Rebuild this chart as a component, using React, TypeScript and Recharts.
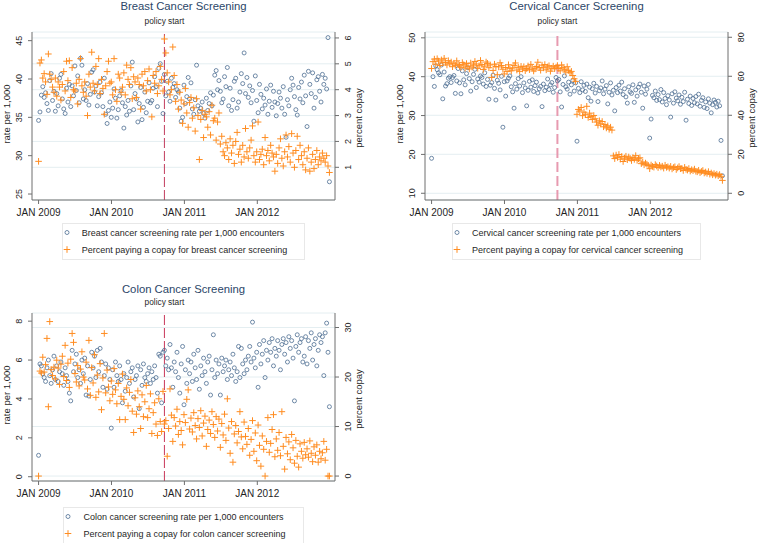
import type { JSX } from "react";
import { CartesianGrid, ReferenceLine, Scatter, ScatterChart, XAxis, YAxis } from "recharts";

// weeks since Jan 1 2009 (one point per week, 209 weeks)
const tickWeeks = [0, 52.14, 104.29, 156.43];
const tickLabels = ["JAN 2009", "JAN 2010", "JAN 2011", "JAN 2012"];
const policyWeek = 90;

const breastRate = [
  34.6, 35.7, 37.9, 39.0, 37.6, 38.2, 36.8, 35.9, 39.8, 40.7, 37.2, 38.4, 35.8, 38.1, 36.5, 40.1, 40.6, 37.4, 36.1, 35.5,
  38.8, 37.0, 39.3, 36.4, 39.1, 37.8, 41.7, 38.5, 40.4, 36.9, 42.7, 41.8, 37.4, 38.6, 37.2, 39.4, 36.6, 38.0, 40.9, 41.2,
  38.3, 39.1, 36.5, 37.7, 39.6, 38.2, 36.4, 40.1, 35.4, 34.2, 35.9, 37.0, 35.0, 36.2, 38.7, 37.5, 34.9, 36.0, 37.8, 38.5,
  36.9, 33.6, 36.4, 35.3, 37.2, 35.8, 39.1, 42.2, 36.0, 38.1, 37.4, 34.4, 36.8, 38.9, 34.7, 36.3, 38.3, 35.6, 37.1, 39.5,
  36.9, 37.2, 38.8, 40.3, 39.0, 36.4, 41.4, 42.0, 39.7, 35.5,
  40.6, 37.8, 39.7, 38.3, 37.1, 40.1, 38.9, 39.4, 37.6, 38.6, 38.3, 36.2, 34.5, 35.0, 39.2, 36.8, 37.7, 40.2, 37.4, 39.5,
  36.1, 35.4, 37.3, 41.8, 36.5, 35.8, 36.2, 37.0, 35.5, 34.9, 37.5, 35.9, 36.8, 38.2, 36.5, 37.9, 40.5, 41.1, 38.6, 39.8,
  38.4, 36.9, 37.4, 40.3, 39.0, 41.5, 36.5, 38.8, 35.9, 37.3, 39.7, 40.1, 36.2, 37.0, 38.3, 40.7, 39.4, 43.4, 38.1, 40.2,
  37.6, 39.1, 36.9, 38.5, 34.5, 40.4, 37.2, 35.6, 39.3, 38.0, 36.1, 37.5, 36.6, 38.7, 35.4, 37.1, 39.2, 36.3, 38.4, 37.0,
  35.2, 36.8, 38.3, 37.5, 36.2, 39.0, 35.4, 32.4, 37.3, 36.5, 38.6, 40.1, 39.2, 37.7, 36.0, 35.3, 38.9, 37.4, 39.6, 36.9,
  40.5, 37.8, 33.8, 41.0, 39.3, 38.1, 40.8, 36.2, 37.6, 39.9, 40.3, 38.4, 37.0, 40.6, 39.3, 40.1, 38.7, 45.4, 26.6,
];

const breastCopay = [
  1.23, 5.03, 5.15, 4.45, 4.62, 4.3, 3.82, 5.38, 4.6, 4.4, 4.1, 3.9, 4.45, 3.75, 4.3, 4.1, 3.6, 4.2, 4.7, 3.95,
  5.1, 4.35, 5.12, 3.7, 4.85, 4.0, 3.95, 4.25, 3.45, 4.4, 5.2, 4.15, 3.9, 4.3, 3.75, 3.0, 4.6, 4.1, 5.45, 4.25,
  3.95, 4.9, 4.2, 5.2, 3.85, 4.4, 4.05, 3.05, 4.15, 4.7, 5.1, 4.25, 4.3, 3.8, 5.2, 4.0, 3.55, 4.6, 4.45, 3.9,
  4.1, 4.65, 3.8, 4.95, 4.4, 4.2, 4.85, 3.65, 4.5, 4.3, 3.7, 4.45, 4.2, 3.25, 4.6, 4.15, 4.7, 3.95, 4.35, 4.8,
  4.0, 2.95, 4.55, 4.25, 4.7, 3.85, 4.15, 4.9, 4.4, 3.95,
  5.96, 5.42, 4.65, 4.3, 3.8, 4.0, 5.65, 4.55, 3.55, 4.2, 3.25, 3.9, 3.6, 2.7, 3.45, 4.05, 3.1, 2.55, 3.5, 3.7,
  2.9, 3.3, 2.4, 3.65, 3.0, 1.3, 2.85, 3.2, 2.15, 3.05, 2.95, 2.55, 3.15, 2.25, 3.4, 2.8, 2.9, 2.05, 2.75, 3.1,
  1.9, 2.2, 1.6, 1.45, 1.95, 1.75, 1.3, 2.1, 1.55, 1.85, 1.15, 2.0, 2.35, 1.5, 1.7, 1.2, 1.85, 1.4, 2.5, 1.6,
  1.35, 1.75, 2.05, 2.6, 1.45, 1.2, 1.6, 2.75, 1.3, 1.5, 1.7, 1.1, 2.15, 1.45, 1.65, 1.25, 1.85, 1.55, 1.4, 0.85,
  1.5, 1.15, 1.75, 2.1, 1.35, 1.05, 1.6, 2.25, 1.4, 1.8, 1.2, 2.3, 1.55, 1.0, 1.65, 2.2, 1.3, 1.85, 1.45, 1.1,
  1.6, 0.9, 1.35, 1.75, 0.85, 1.2, 1.5, 0.95, 1.3, 1.65, 1.1, 1.4, 1.25, 1.55, 1.35, 1.2, 1.45, 1.05, 0.8,
];

const cervicalRate = [
  19.0, 40.0, 37.5, 42.8, 41.8, 41.0, 40.5, 43.0, 34.3, 41.2, 37.6, 38.2, 39.6, 40.0, 38.5, 39.8, 40.3, 35.7, 38.9, 42.1,
  38.4, 35.6, 41.5, 39.2, 37.9, 40.8, 42.3, 39.5, 36.3, 38.7, 40.6, 41.9, 37.2, 39.4, 38.6, 40.2, 39.8, 38.1, 41.0, 37.5,
  39.3, 34.2, 37.8, 38.5, 40.4, 37.0, 34.0, 39.1, 38.3, 36.6, 40.1, 27.0, 38.7, 35.0, 38.9, 39.6, 40.2, 37.4, 36.1, 31.9,
  38.2, 36.8, 39.5, 37.6, 40.0, 35.9, 38.4, 37.1, 32.5, 36.5, 38.8, 37.3, 39.2, 36.2, 37.7, 38.6, 35.8, 36.9, 37.5, 32.3,
  38.1, 36.4, 37.3, 39.4, 36.7, 37.9, 38.5, 36.0, 37.2, 39.8,
  38.9, 39.3, 36.1, 32.2, 38.0, 40.2, 37.4, 36.8, 38.6, 35.5, 37.9, 39.0, 36.3, 38.4, 23.4, 37.0, 35.9, 38.7, 36.6, 37.8,
  36.2, 38.1, 34.6, 37.3, 33.7, 36.9, 38.3, 35.8, 37.5, 33.6, 36.4, 37.1, 38.9, 35.6, 36.8, 37.7, 33.0, 36.0, 38.4, 35.3,
  36.5, 31.2, 37.2, 35.9, 37.8, 36.3, 38.6, 35.4, 36.9, 34.8, 33.2, 37.4, 36.1, 35.7, 37.9, 33.4, 36.6, 35.0, 37.3, 38.1,
  36.0, 31.9, 37.6, 35.5, 36.8, 38.0, 24.2, 29.1, 35.2, 34.6, 36.3, 33.9, 35.4, 34.1, 36.7, 33.5, 35.9, 34.4, 32.8, 35.1,
  34.0, 29.6, 35.6, 33.2, 36.1, 34.5, 33.8, 35.3, 32.9, 34.7, 33.6, 36.0, 28.8, 34.2, 33.1, 35.0, 32.6, 34.4, 33.3, 34.9,
  33.0, 35.5, 32.4, 33.9, 34.6, 32.1, 33.5, 31.8, 34.3, 33.2, 30.7, 32.8, 34.0, 33.4, 32.2, 33.7, 32.5, 23.6, 14.5,
];

const cervicalCopay = [
  64.0, 67.5, 68.8, 66.2, 69.0, 67.8, 65.5, 68.4, 66.9, 69.2, 67.1, 65.8, 68.0, 66.4, 67.3, 64.9, 66.7, 65.6, 67.9, 66.1,
  65.3, 64.6, 67.0, 65.9, 64.2, 66.5, 65.1, 63.8, 66.8, 64.7, 65.7, 67.6, 66.3, 64.1, 65.4, 68.1, 66.0, 63.5, 65.2, 67.3,
  66.6, 64.4, 65.8, 59.4, 63.0, 66.2, 65.0, 60.8, 64.8, 66.9, 65.5, 63.6, 61.2, 64.5, 62.4, 65.9, 63.9, 62.8, 64.3, 65.6,
  66.8, 63.2, 64.6, 62.5, 65.1, 63.7, 64.9, 62.9, 64.0, 65.3, 63.4, 66.1, 64.2, 62.7, 63.8, 65.0, 67.2, 64.5, 63.1, 65.7,
  64.3, 66.0, 63.3, 64.8, 65.4, 62.6, 64.1, 65.2, 63.9, 64.7,
  65.5, 64.0, 62.8, 65.8, 64.4, 63.6, 62.2, 64.9, 63.0, 61.8, 62.5, 60.4, 58.7, 57.4, 40.5, 43.0, 42.2, 44.0, 39.8, 41.6,
  40.3, 44.6, 38.9, 41.1, 39.4, 37.8, 39.9, 38.2, 36.5, 34.9, 37.2, 35.6, 36.8, 34.1, 35.3, 33.5, 34.6, 32.8, 33.9, 32.4,
  19.2, 17.8, 19.6, 18.4, 19.9, 17.5, 18.9, 16.3, 18.1, 19.0, 17.2, 18.6, 17.9, 16.8, 18.3, 17.4, 19.3, 16.9, 17.7, 18.2,
  15.2, 16.0, 14.6, 15.5, 14.9, 14.2, 12.6, 14.5, 13.8, 13.4, 14.7, 14.0, 13.2, 14.3, 13.5, 13.9, 12.9, 14.4, 13.3, 13.6,
  12.9, 13.8, 12.5, 13.2, 13.6, 12.2, 13.0, 13.7, 12.6, 12.8, 11.7, 13.3, 12.3, 11.9, 12.7, 11.4, 12.1, 11.6, 12.4, 11.3,
  11.0, 11.8, 10.6, 11.2, 11.7, 10.4, 10.9, 10.2, 11.1, 9.8, 10.4, 9.5, 10.1, 9.3, 9.8, 9.0, 9.6, 8.7, 6.6,
];

const colonRate = [
  1.1, 5.8, 5.7, 5.3, 5.1, 4.9, 5.6, 6.0, 5.2, 4.8, 5.5, 6.2, 5.0, 5.7, 4.9, 5.4, 5.9, 5.3, 4.7, 5.6,
  5.2, 4.9, 4.3, 3.9, 6.5, 5.4, 5.8, 6.3, 5.1, 5.5, 4.8, 6.0, 5.3, 6.1, 4.2, 5.7, 4.15, 5.0, 6.4, 5.6,
  6.2, 5.1, 6.5, 5.4, 6.6, 5.9, 4.6, 5.2, 5.8, 4.5, 5.6, 5.0, 2.5, 5.5, 4.6, 5.9, 5.2, 4.9, 5.7, 5.0,
  3.8, 5.3, 4.4, 5.1, 5.9, 4.8, 5.4, 5.6, 4.1, 5.0, 5.2, 5.7, 3.5, 5.5, 4.7, 5.8, 5.1, 4.9, 5.3, 5.6,
  4.8, 5.4, 5.0, 5.7, 5.1, 4.3, 6.3, 6.2, 3.8, 6.4,
  6.5, 5.7, 6.1, 5.5, 6.8, 5.6, 4.6, 5.9, 5.4, 6.4, 5.1, 4.3, 5.8, 6.7, 3.7, 5.5, 4.8, 6.0, 5.3, 5.9,
  4.9, 6.3, 5.6, 5.0, 6.5, 4.5, 5.7, 5.2, 6.1, 5.4, 4.8, 5.9, 6.2, 4.2, 5.5, 7.3, 5.1, 6.0, 5.3, 5.8,
  4.2, 6.1, 5.4, 5.7, 6.0, 5.0, 5.5, 5.9, 5.2, 6.3, 5.6, 4.9, 5.4, 6.7, 5.1, 6.6, 5.8, 5.3, 6.0, 5.5,
  6.2, 6.7, 5.9, 7.95, 6.1, 5.6, 6.4, 4.6, 6.8, 5.8, 6.3, 7.0, 5.1, 6.5, 6.0, 6.9, 6.4, 7.1, 5.7, 6.6,
  6.2, 7.0, 6.5, 5.5, 6.8, 7.1, 6.3, 6.9, 5.9, 7.2, 6.6, 7.0, 6.1, 3.9, 6.7, 7.3, 6.4, 6.9, 7.1, 5.9,
  6.2, 7.2, 5.8, 7.0, 6.6, 7.4, 6.0, 6.8, 7.1, 5.7, 6.5, 7.3, 6.9, 7.2, 5.2, 7.4, 7.9, 6.4, 3.6,
];

const colonCopay = [
  0.0, 21.2, 20.8, 24.0, 21.0, 22.5, 27.8, 14.0, 31.2, 21.5, 20.3, 22.0, 19.6, 23.4, 21.8, 18.5, 22.6, 24.2, 20.1, 26.4,
  19.3, 22.8, 17.9, 23.6, 28.8, 27.0, 20.7, 19.0, 22.3, 18.2, 21.6, 25.1, 20.0, 19.4, 23.0, 17.6, 27.4, 16.3, 21.9, 18.8,
  24.5, 15.9, 20.4, 17.0, 22.7, 13.4, 19.8, 28.8, 16.8, 21.4, 18.0, 15.2, 19.2, 16.5, 21.7, 17.4, 14.6, 18.7, 11.4, 16.1,
  20.6, 15.5, 11.4, 17.8, 14.2, 16.9, 19.5, 13.1, 8.8, 15.8, 12.5, 17.2, 14.0, 9.6, 16.4, 12.0, 15.0, 18.3, 11.8, 13.6,
  16.6, 8.6, 12.8, 14.8, 10.5, 8.2, 15.6, 11.0, 9.0, 17.1,
  10.5, 11.2, 4.0, 9.6, 17.6, 12.3, 7.0, 11.8, 10.1, 13.5, 8.4, 11.0, 9.2, 6.3, 12.4, 10.8, 15.5, 17.4, 9.5, 11.7,
  8.9, 12.8, 10.2, 7.5, 11.6, 9.8, 13.2, 8.1, 10.7, 12.1, 6.0, 9.4, 11.3, 8.6, 13.0, 10.4, 7.8, 12.0, 9.1, 11.5,
  5.8, 10.6, 8.3, 12.5, 7.2, 15.6, 9.7, 4.6, 11.0, 2.8, 8.5, 10.2, 6.7, 9.0, 13.0, 7.9, 5.5, 10.9, 8.0, 6.4,
  9.6, 4.2, 7.4, 11.2, 5.0, 8.7, 3.1, 10.3, 6.2, 2.0, 8.1, 5.4, 0.0, 7.0, 11.8, 4.8, 6.6, 9.4, 12.4, 3.9,
  7.5, 5.2, 8.8, 4.1, 13.0, 6.0, 1.4, 7.8, 4.5, 6.9, 3.3, 8.4, 5.7, 2.6, 7.2, 4.0, 1.8, 6.5, 5.0, 3.6,
  6.8, 4.3, 5.5, 3.8, 7.1, 4.6, 2.9, 5.9, 4.2, 6.3, 2.8, 5.0, 3.5, 4.7, 7.0, 3.2, 5.4, 0.0, 0.0,
];

const FONT = '"Liberation Sans", Arial, Helvetica, sans-serif';
const AXIS = "#6e6e6e";
const INK = "#1f1f1f";
const NAVY = "#4d6d92";
const ORANGE = "#ff8c20";
const W = 380;
const H = 222;
const PLOT_LEFT = 32;
const PLOT_RIGHT = 335;
const PLOT_TOP = 32;
const PLOT_BOTTOM = 200;

interface PanelProps {
  readonly x: number;
  readonly y: number;
  readonly title: string;
  readonly titleTop: number;
  readonly legendTop: number;
  readonly rates: readonly number[];
  readonly copays: readonly number[];
  readonly leftDomain: [number, number];
  readonly leftTicks: number[];
  readonly rightDomain: [number, number];
  readonly rightTicks: number[];
  readonly rateLabel: string;
  readonly copayLabel: string;
  readonly rateLabelLegend: string;
  readonly copayLabelLegend: string;
  readonly policyColor: string;
  readonly policyWidth: number;
  readonly policyDash: string;
}

function rotTick(cx: number) {
  return (p: any): JSX.Element => (
    <text
      x={cx}
      y={p.y}
      transform={`rotate(-90 ${cx} ${p.y})`}
      textAnchor="middle"
      dominantBaseline="central"
      fontSize={9}
      fontFamily={FONT}
      fill={INK}
    >
      {p.payload.value}
    </text>
  );
}

function xTick(p: any): JSX.Element {
  const i = tickWeeks.indexOf(p.payload.value);
  return (
    <text x={p.x} y={215.5} textAnchor="middle" fontSize={10} fontFamily={FONT} fill={INK}>
      {tickLabels[i]}
    </text>
  );
}

function CircleDot(p: any): JSX.Element {
  return <circle cx={p.cx} cy={p.cy} r={2} fill="none" stroke={NAVY} strokeWidth={0.8} />;
}

function PlusDot(p: any): JSX.Element {
  const s = 3.3;
  return (
    <path
      d={`M${p.cx - s},${p.cy}H${p.cx + s}M${p.cx},${p.cy - s}V${p.cy + s}`}
      stroke={ORANGE}
      strokeWidth={1}
      fill="none"
    />
  );
}

function RotLabel({ cx, cy, text }: { cx: number; cy: number; text: string }): JSX.Element {
  return (
    <div
      style={{
        position: "absolute",
        left: cx,
        top: cy,
        transform: "translate(-50%, -50%) rotate(-90deg)",
        whiteSpace: "nowrap",
        fontSize: 9.5,
        color: INK,
        lineHeight: "11px",
      }}
    >
      {text}
    </div>
  );
}

function Panel(props: PanelProps): JSX.Element {
  const rateRows = props.rates.map((v, i) => ({ week: i, value: v }));
  const copayRows = props.copays.map((v, i) => ({ week: i, value: v }));
  const midY = (PLOT_TOP + PLOT_BOTTOM) / 2;
  return (
    <div style={{ position: "absolute", left: props.x, top: props.y, width: W, height: 270, fontFamily: FONT }}>
      <div
        style={{
          position: "absolute",
          left: PLOT_LEFT,
          width: PLOT_RIGHT - PLOT_LEFT,
          top: props.titleTop,
          textAlign: "center",
          fontSize: 11.3,
          lineHeight: "13px",
          color: "#2b4668",
          whiteSpace: "nowrap",
        }}
      >
        {props.title}
      </div>
      <RotLabel cx={6} cy={midY - 2} text={props.rateLabel} />
      <RotLabel cx={358} cy={midY + 2} text={props.copayLabel} />
      <div style={{ position: "absolute", left: 0, top: 0 }}>
        <ScatterChart width={W} height={H} margin={{ top: PLOT_TOP, right: 0, bottom: 0, left: 0 }}>
          <CartesianGrid vertical={false} yAxisId="right" stroke="#e4eef1" strokeWidth={1} />
          <XAxis
            dataKey="week"
            type="number"
            domain={[-4.7, 212]}
            allowDataOverflow
            ticks={tickWeeks}
            tick={xTick}
            tickSize={4}
            height={H - PLOT_BOTTOM}
            stroke={AXIS}
            axisLine={{ stroke: AXIS }}
            tickLine={{ stroke: AXIS }}
          />
          <YAxis
            yAxisId="left"
            dataKey="value"
            type="number"
            orientation="left"
            width={PLOT_LEFT}
            domain={props.leftDomain}
            allowDataOverflow
            ticks={props.leftTicks}
            tick={rotTick(19.5)}
            tickSize={4}
            axisLine={{ stroke: AXIS }}
            tickLine={{ stroke: AXIS }}
          />
          <YAxis
            yAxisId="right"
            dataKey="value"
            type="number"
            orientation="right"
            width={W - PLOT_RIGHT}
            domain={props.rightDomain}
            allowDataOverflow
            ticks={props.rightTicks}
            tick={rotTick(348)}
            tickSize={4}
            axisLine={{ stroke: AXIS }}
            tickLine={{ stroke: AXIS }}
          />
          <Scatter yAxisId="left" data={rateRows} shape={CircleDot} isAnimationActive={false} />
          <Scatter yAxisId="right" data={copayRows} shape={PlusDot} isAnimationActive={false} />
          <ReferenceLine
            yAxisId="left"
            x={policyWeek}
            stroke={props.policyColor}
            strokeWidth={props.policyWidth}
            strokeDasharray={props.policyDash}
            label={{ value: "policy start", position: "top", offset: 8, fontSize: 8.3, fill: INK, fontFamily: FONT }}
          />
        </ScatterChart>
      </div>
      <div
        style={{
          position: "absolute",
          left: PLOT_LEFT,
          width: PLOT_RIGHT - PLOT_LEFT,
          top: props.legendTop,
          display: "flex",
          justifyContent: "center",
        }}
      >
        <div style={{ border: "1px solid #e8e8e8", padding: "0 17px 1px 0", fontSize: 9, color: INK }}>
          <div style={{ display: "flex", alignItems: "center", height: 17, whiteSpace: "nowrap" }}>
            <svg width={19} height={17}>
              <circle cx={4} cy={8.5} r={2} fill="none" stroke={NAVY} strokeWidth={0.8} />
            </svg>
            <span>{props.rateLabelLegend}</span>
          </div>
          <div style={{ display: "flex", alignItems: "center", height: 17, whiteSpace: "nowrap" }}>
            <svg width={19} height={17}>
              <path d="M0.7,8.5H7.3M4,5.2V11.8" stroke={ORANGE} strokeWidth={1} fill="none" />
            </svg>
            <span>{props.copayLabelLegend}</span>
          </div>
        </div>
      </div>
    </div>
  );
}

export default function App(): JSX.Element {
  return (
    <div style={{ position: "fixed", left: 0, top: 0, width: 758, height: 543, background: "#fff", overflow: "hidden" }}>
      <Panel
        x={0}
        y={0}
        title="Breast Cancer Screening"
        titleTop={0}
        legendTop={223}
        rates={breastRate}
        copays={breastCopay}
        leftDomain={[24.22, 46.13]}
        leftTicks={[25, 30, 35, 40, 45]}
        rightDomain={[-0.264, 6.23]}
        rightTicks={[1, 2, 3, 4, 5, 6]}
        rateLabel="rate per 1,000"
        copayLabel="percent copay"
        rateLabelLegend="Breast cancer screening rate per 1,000 encounters"
        copayLabelLegend="Percent paying a copay for breast cancer screening"
        policyColor="#c23d5e"
        policyWidth={1}
        policyDash="10 3"
      />
      <Panel
        x={393}
        y={0}
        title="Cervical Cancer Screening"
        titleTop={0}
        legendTop={223}
        rates={cervicalRate}
        copays={cervicalCopay}
        leftDomain={[8.27, 51.5]}
        leftTicks={[10, 20, 30, 40, 50]}
        rightDomain={[-3.44, 82.7]}
        rightTicks={[0, 20, 40, 60, 80]}
        rateLabel="rate per 1,000"
        copayLabel="percent copay"
        rateLabelLegend="Cervical cancer screening rate per 1,000 encounters"
        copayLabelLegend="Percent paying a copay for cervical cancer screening"
        policyColor="#e79ab0"
        policyWidth={2}
        policyDash="10 4"
      />
      <Panel
        x={0}
        y={281}
        title="Colon Cancer Screening"
        titleTop={2}
        legendTop={226}
        rates={colonRate}
        copays={colonCopay}
        leftDomain={[-0.22, 8.42]}
        leftTicks={[0, 2, 4, 6, 8]}
        rightDomain={[-1.0, 32.93]}
        rightTicks={[0, 10, 20, 30]}
        rateLabel="rate per 1,000"
        copayLabel="percent copay"
        rateLabelLegend="Colon cancer screening rate per 1,000 encounters"
        copayLabelLegend="Percent paying a copay for colon cancer screening"
        policyColor="#c8385a"
        policyWidth={1}
        policyDash="10 3"
      />
    </div>
  );
}
